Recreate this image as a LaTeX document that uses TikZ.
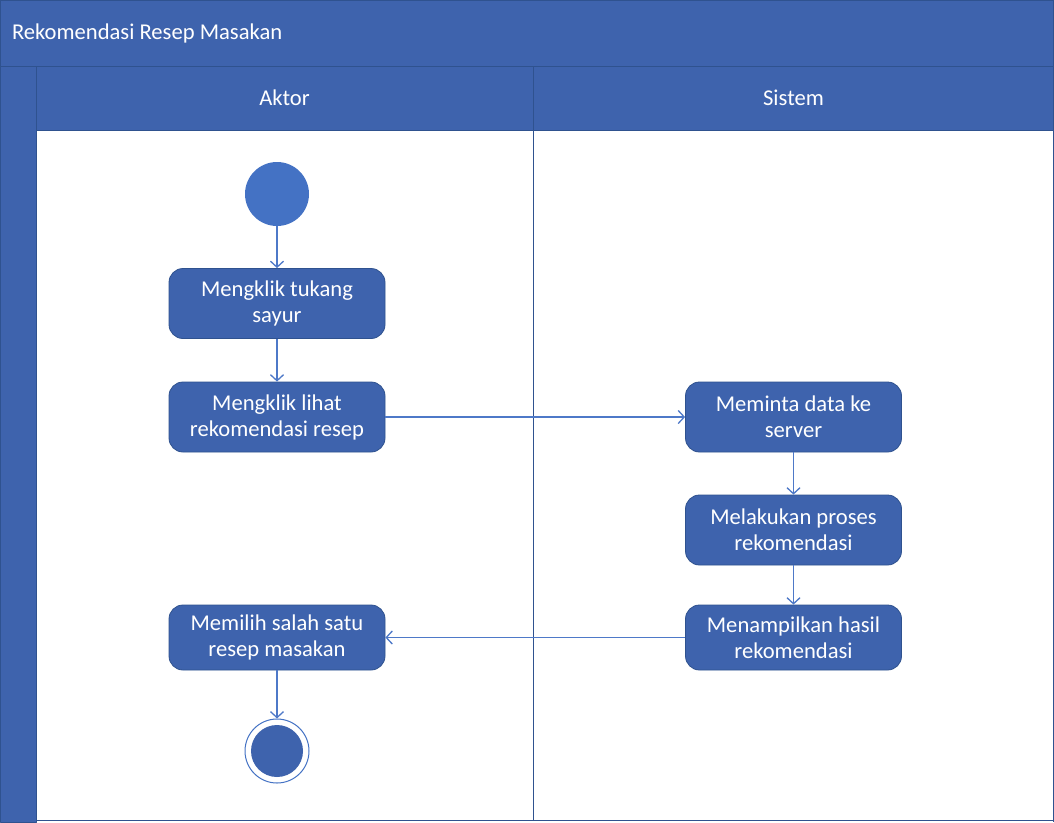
\documentclass[tikz,border=0pt]{standalone}
\usepackage{fontspec}
\setmainfont{Carlito}
\usetikzlibrary{arrows.meta,positioning}
\definecolor{lanebg}{RGB}{62,99,173}
\definecolor{laneline}{RGB}{47,82,143}
\definecolor{startfill}{RGB}{68,114,196}
\definecolor{flowline}{RGB}{78,121,200}
\begin{document}
\begin{tikzpicture}[x=1pt, y=-1pt, line join=round,
			font=\fontsize{22.6}{26}\selectfont,
			act/.style={draw=laneline, fill=lanebg, text=white, rounded corners=14pt,
				minimum width=216pt, minimum height=70pt, align=center, line width=0.8pt},
			flow/.style={draw=flowline, line width=1.3pt, -{Straight Barb[length=6pt,width=13pt]}}]
			\def \W{1054}
			\def \H{822}
			\useasboundingbox (0,0) rectangle (\W,\H);
			% pool and lanes
			\fill[white] (0,0) rectangle (\W,\H);
			\filldraw[fill=lanebg, draw=laneline] (0,0) rectangle (\W,66);
			\node[anchor=west, text=white] (pool) at (8.5,33) {Rekomendasi Resep Masakan};
			\filldraw[fill=lanebg, draw=laneline] (0,66) rectangle (36,\H);
			\filldraw[fill=lanebg, draw=laneline] (36,66) rectangle (533,130);
			\filldraw[fill=lanebg, draw=laneline] (533,66) rectangle (\W,130);
			\node[text=white] (aktor) at (284.5,98) {Aktor};
			\node[text=white] (sistem) at (793.5,98) {Sistem};
			\draw[laneline, line width=1pt] (533,130)--(533,820) (36,820)--(\W,820) (\W-0.5,0)--(\W-0.5,\H);
			% actions
			\node[circle, fill=startfill, minimum size=64pt, inner sep=0pt] (start) at (277,194) {};
			\node[act] (klik) at (277,303.5) {Mengklik tukang\\sayur};
			\node[act] (lihat) at (277,417) {Mengklik lihat\\rekomendasi resep};
			\node[act] (minta) at (793.5,417) {Meminta data ke\\server};
			\node[act] (proses) at (793.5,530) {Melakukan proses\\rekomendasi};
			\node[act, minimum height=65pt] (tampil) at (793.5,637.5) {Menampilkan hasil\\rekomendasi};
			\node[act, minimum height=65pt] (pilih) at (277,637.5) {Memilih salah satu\\resep masakan};
			\node[circle, draw=startfill, line width=1pt, fill=white, minimum size=64pt, inner sep=0pt] (stop) at (277,751) {};
			\fill[lanebg] (stop.center) circle (26);
			% flows
			\draw[flow] (start)--(klik);
			\draw[flow] (klik)--(lihat);
			\draw[flow] (lihat)--(minta);
			\draw[flow] (minta)--(proses);
			\draw[flow] (proses)--(tampil);
			\draw[flow] (tampil)--(pilih);
			\draw[flow] (pilih)--(stop);
		\end{tikzpicture}
\end{document}
